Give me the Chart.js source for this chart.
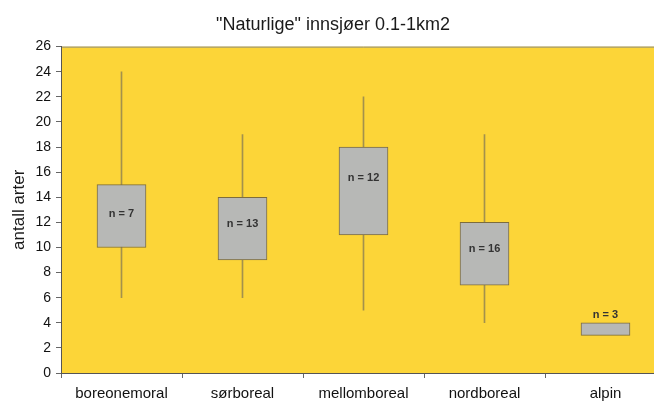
<!DOCTYPE html>
<html>
<head>
<meta charset="utf-8">
<script src="https://cdn.jsdelivr.net/npm/chart.js@4/dist/chart.umd.min.js"></script>
<style>
  html, body { margin: 0; padding: 0; background: #fff; overflow: hidden; }
  #wrap { width: 670px; height: 401px; }
</style>
</head>
<body>
<div id="wrap"><canvas id="c"></canvas></div>
<script>
// ---------- DATA ----------
const zones = ["boreonemoral", "sørboreal", "mellomboreal", "nordboreal", "alpin"];
const whiskerMin = [6, 6, 5, 4, null];
const boxLow     = [10, 9, 11, 7, 3];
const boxHigh    = [15, 14, 18, 12, 4];
const whiskerMax = [24, 19, 22, 19, null];
const medians    = [12.7, 11.9, 15.5, 9.9, null];
const counts     = [7, 13, 12, 16, 3];

const yTicks = { min: 0, max: 26, step: 2 };

// ---------- PLUGINS ----------
const plotBg = {
  id: "plotBg",
  beforeDraw(chart) {
    const { ctx, chartArea: a } = chart;
    ctx.save();
    ctx.fillStyle = "#fcd538";
    ctx.fillRect(a.left, a.top, a.right - a.left, a.bottom - a.top);
    ctx.strokeStyle = "#8c8c80";
    ctx.lineWidth = 1;
    ctx.beginPath();
    ctx.moveTo(a.left, a.top + 0.5);
    ctx.lineTo(a.right, a.top + 0.5);
    ctx.stroke();
    ctx.restore();
  }
};

const nLabels = {
  id: "nLabels",
  afterDatasetsDraw(chart) {
    const { ctx, scales } = chart;
    const meta = chart.getDatasetMeta(1);
    ctx.save();
    ctx.font = "bold 11px 'Liberation Sans', Arial, sans-serif";
    ctx.fillStyle = "#333";
    ctx.textAlign = "center";
    ctx.textBaseline = "middle";
    counts.forEach((n, i) => {
      const x = meta.data[i].x;
      const y = medians[i] != null
        ? scales.y.getPixelForValue(medians[i])
        : scales.y.getPixelForValue(boxHigh[i]) - 8;
      ctx.fillText("n = " + n, x, y);
    });
    ctx.restore();
  }
};

// ---------- CHART ----------
const font = "'Liberation Sans', Arial, sans-serif";

new Chart(document.getElementById("c"), {
  type: "bar",
  data: {
    labels: zones,
    datasets: [
      {
        label: "range",
        data: zones.map((_, i) => whiskerMin[i] == null ? null : [whiskerMin[i], whiskerMax[i]]),
        backgroundColor: "#a3914c",
        borderWidth: 0,
        barThickness: 1,
        grouped: false,
        order: 2
      },
      {
        label: "box",
        data: zones.map((_, i) => [boxLow[i], boxHigh[i]]),
        backgroundColor: "#b7b8b6",
        borderColor: "#7d6c3c",
        borderWidth: 1,
        borderSkipped: false,
        barThickness: 49,
        grouped: false,
        order: 1
      }
    ]
  },
  options: {
    responsive: true,
    maintainAspectRatio: false,
    animation: false,
    layout: { padding: { left: 0, right: 4, top: 0, bottom: 0 } },
    plugins: {
      legend: { display: false },
      tooltip: { enabled: false },
      title: {
        display: true,
        text: '"Naturlige" innsjøer 0.1-1km2',
        color: "#1a1a1a",
        font: { family: font, size: 18, weight: "normal" },
        padding: { top: 14, bottom: 11 }
      }
    },
    scales: {
      x: {
        offset: true,
        grid: { offset: true, drawOnChartArea: false, tickLength: 5, color: "#666" },
        border: { color: "#555", width: 1 },
        ticks: { color: "#111", font: { family: font, size: 15 }, padding: 7, maxRotation: 0 },
        afterFit(s) { s.height = 28; }
      },
      y: {
        min: yTicks.min,
        max: yTicks.max,
        grid: { drawOnChartArea: false, tickLength: 5, color: "#666" },
        border: { color: "#555", width: 1 },
        ticks: { stepSize: yTicks.step, color: "#111", font: { family: font, size: 14 }, padding: 5 },
        title: {
          display: true,
          text: "antall arter",
          color: "#1a1a1a",
          font: { family: font, size: 17 },
          padding: { top: 9, bottom: 0 }
        },
        afterFit(s) { s.width = 61; }
      }
    }
  },
  plugins: [plotBg, nLabels]
});
</script>
</body>
</html>
